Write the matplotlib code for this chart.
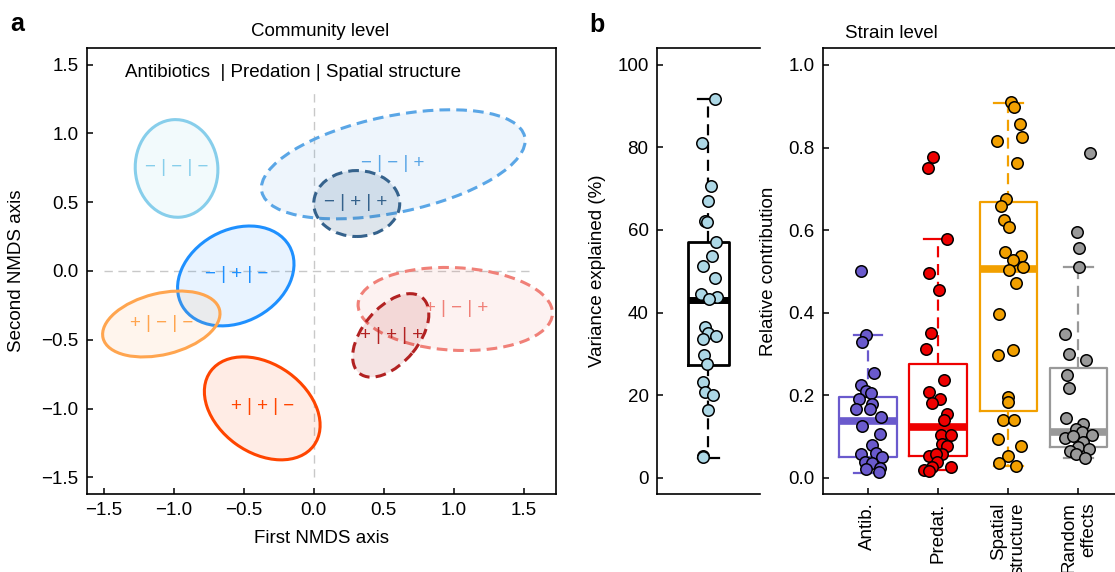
import matplotlib
matplotlib.use('Agg')
from matplotlib import pyplot as plt
from matplotlib.patches import Ellipse
from matplotlib.colors import to_rgba

plt.rcParams['font.family'] = ['Liberation Sans', 'DejaVu Sans']
plt.rcParams['font.size'] = 13

# ---- panel a: NMDS ellipses (community level) ----
ell_labels = ['− | − | −', '− | − | +', '− | + | +', '− | + | −',
              '+ | − | −', '+ | + | −', '+ | − | +', '+ | + | +']
ell_cx = [-0.98, 0.568, 0.307, -0.557, -1.089, -0.368, 1.011, 0.55]
ell_cy = [0.745, 0.775, 0.49, -0.036, -0.385, -0.998, -0.276, -0.468]
ell_w = [0.59, 1.92, 0.614, 0.88, 0.857, 0.913, 1.39, 0.71]
ell_h = [0.71, 0.70, 0.479, 0.666, 0.445, 0.64, 0.60, 0.40]
ell_ang = [4, 12, 0, 30, 14, -36.5, -3, 51]
ell_colors = ['#87CEEB', '#5AA6E6', '#35628C', '#1E90FF',
              '#FFA54F', '#FF4500', '#F08078', '#B22222']
ell_dashed = [False, True, True, False, False, False, True, True]
ell_fill = [0.10, 0.10, 0.16, 0.10, 0.10, 0.10, 0.10, 0.12]
lab_x = [-0.98, 0.566, 0.30, -0.55, -1.086, -0.364, 1.02, 0.557]
lab_y = [0.75, 0.78, 0.497, -0.025, -0.381, -0.984, -0.27, -0.47]

# ---- panel b left: variance explained ----
var_expl = [91.7, 80.9, 70.6, 67.1, 62.2, 62.0, 57.1, 53.6, 51.3, 48.4, 44.6,
            43.8, 43.2, 36.4, 35.0, 34.4, 33.7, 29.8, 27.5, 23.1, 20.8, 20.0,
            16.4, 5.3, 5.0]
var_jit = [0.129, -0.129, 0.045, 0.0, -0.065, -0.032, 0.142, 0.065, -0.11,
           0.136, -0.136, 0.162, 0.019, -0.071, -0.013, 0.155, -0.11, -0.084,
           -0.032, -0.11, -0.071, 0.097, -0.006, -0.11, -0.097]
var_box = dict(q1=27.2, med=43.0, q3=57.0, whislo=4.8, whishi=91.7)

# ---- panel b right: relative contribution ----
cats = ['Antib.', 'Predat.', 'Spatial\nstructure', 'Random\neffects']
cat_colors = ['#6A5ACD', '#EE0000', '#F2A000', '#999999']
antib = [0.502, 0.347, 0.330, 0.253, 0.225, 0.211, 0.206, 0.191, 0.180, 0.167,
         0.166, 0.148, 0.125, 0.106, 0.079, 0.057, 0.061, 0.051, 0.039, 0.036,
         0.021, 0.023, 0.015]
antib_jit = [-0.104, -0.033, -0.081, 0.081, -0.104, -0.024, 0.047, -0.128,
             0.057, -0.166, 0.024, 0.18, -0.081, 0.175, 0.057, -0.104, 0.118,
             0.194, -0.047, 0.057, -0.033, 0.175, 0.152]
predat = [0.776, 0.750, 0.578, 0.495, 0.455, 0.350, 0.313, 0.237, 0.208, 0.190,
          0.182, 0.154, 0.140, 0.103, 0.103, 0.083, 0.078, 0.053, 0.057, 0.059,
          0.039, 0.027, 0.027, 0.019, 0.017]
predat_jit = [-0.066, -0.147, 0.123, -0.128, 0.014, -0.104, -0.175, 0.09,
              -0.128, 0.033, -0.09, 0.123, 0.085, 0.038, 0.18, 0.052, 0.133,
              -0.123, 0.052, -0.033, -0.019, -0.09, 0.185, -0.199, -0.128]
spatial = [0.910, 0.899, 0.857, 0.826, 0.815, 0.763, 0.676, 0.658, 0.624, 0.608,
           0.546, 0.537, 0.527, 0.511, 0.503, 0.473, 0.396, 0.309, 0.297, 0.195,
           0.183, 0.140, 0.140, 0.095, 0.078, 0.053, 0.035, 0.029]
spatial_jit = [0.038, 0.081, 0.166, 0.19, -0.166, 0.118, -0.033, -0.109,
               -0.057, 0.005, -0.047, 0.18, 0.071, 0.204, 0.014, 0.109, -0.133,
               0.066, -0.142, -0.009, 0.0, -0.071, 0.081, -0.152, 0.175,
               -0.009, -0.128, 0.109]
random_eff = [0.786, 0.596, 0.557, 0.511, 0.348, 0.301, 0.286, 0.249, 0.217,
              0.146, 0.130, 0.118, 0.111, 0.097, 0.101, 0.103, 0.087, 0.075,
              0.071, 0.065, 0.057, 0.049]
random_jit = [0.171, -0.024, 0.005, 0.005, -0.185, -0.142, 0.109, -0.161,
              -0.142, -0.175, 0.062, -0.033, 0.047, -0.185, -0.071, 0.19, 0.071,
              -0.009, 0.156, -0.118, -0.033, 0.095]
strain_vals = [antib, predat, spatial, random_eff]
strain_jit = [antib_jit, predat_jit, spatial_jit, random_jit]
box_q1 = [0.051, 0.053, 0.162, 0.074]
box_med = [0.137, 0.122, 0.507, 0.111]
box_q3 = [0.196, 0.275, 0.667, 0.267]
box_lo = [0.013, 0.019, 0.029, 0.048]
box_hi = [0.347, 0.578, 0.909, 0.511]

fig = plt.figure(figsize=(11.15, 5.72), dpi=100)
axa = fig.add_axes([0.078, 0.1364, 0.4206, 0.7797])
axb1 = fig.add_axes([0.5892, 0.1364, 0.0924, 0.7797])
axb2 = fig.add_axes([0.7381, 0.1364, 0.2625, 0.7797])

for ax in [axa, axb1, axb2]:
    ax.tick_params(direction='in', length=4, width=1.1, pad=6, labelsize=13.5)
    for s in ax.spines.values():
        s.set_linewidth(1.2)

# panel a
axa.plot([0, 0], [-1.5, 1.3], color='#C8C8C8', lw=1, ls=(0, (6, 4)), zorder=0)
axa.plot([-1.5, 1.55], [0, 0], color='#C8C8C8', lw=1, ls=(0, (6, 4)), zorder=0)
for i in range(len(ell_labels)):
    c = ell_colors[i]
    e = Ellipse((ell_cx[i], ell_cy[i]), ell_w[i], ell_h[i], angle=ell_ang[i],
                facecolor=to_rgba(c, ell_fill[i]), edgecolor=c, lw=2.2,
                ls=(0, (3.5, 2)) if ell_dashed[i] else '-')
    axa.add_patch(e)
    axa.text(lab_x[i], lab_y[i], ell_labels[i], color=c, ha='center',
             va='center', fontsize=13.5)
axa.text(-1.35, 1.44, 'Antibiotics  | Predation | Spatial structure',
         ha='left', va='center', fontsize=13.5)
axa.set_xlim(-1.62, 1.73)
axa.set_ylim(-1.62, 1.62)
axa.set_xticks([-1.5, -1.0, -0.5, 0.0, 0.5, 1.0, 1.5])
axa.set_yticks([-1.5, -1.0, -0.5, 0.0, 0.5, 1.0, 1.5])
axa.set_xlabel('First NMDS axis', labelpad=8, fontsize=13.5)
axa.set_ylabel('Second NMDS axis', labelpad=12, fontsize=13.5)

# panel b left
st = dict(var_box, fliers=[])
axb1.bxp([st], positions=[1], widths=0.78, showfliers=False,
         boxprops=dict(color='black', lw=2),
         whiskerprops=dict(color='black', lw=1.6, ls=(0, (5, 3))),
         capprops=dict(color='black', lw=1.6),
         medianprops=dict(color='black', lw=5))
axb1.scatter([1 + j for j in var_jit], var_expl, s=68, color='#ADD8E6',
             edgecolor='black', lw=1.1, zorder=5)
axb1.set_xlim(0, 2)
axb1.set_ylim(-3.9, 104)
axb1.set_yticks([0, 20, 40, 60, 80, 100])
axb1.set_xticks([])
axb1.spines['right'].set_visible(False)
axb1.set_ylabel('Variance explained (%)', labelpad=8, fontsize=13.5)

# panel b right
stats = []
for i in range(4):
    stats.append(dict(q1=box_q1[i], med=box_med[i], q3=box_q3[i],
                      whislo=box_lo[i], whishi=box_hi[i], fliers=[]))
for i in range(4):
    c = cat_colors[i]
    axb2.bxp([stats[i]], positions=[i + 1], widths=0.82, showfliers=False,
             boxprops=dict(color=c, lw=1.6),
             whiskerprops=dict(color=c, lw=1.6, ls=(0, (5, 3))),
             capprops=dict(color=c, lw=1.6),
             medianprops=dict(color=c, lw=5.5))
    axb2.scatter([i + 1 + j for j in strain_jit[i]], strain_vals[i], s=68,
                 color=c, edgecolor='black', lw=1.1, zorder=5)
axb2.set_xlim(0.36, 4.53)
axb2.set_ylim(-0.039, 1.041)
axb2.set_yticks([0.0, 0.2, 0.4, 0.6, 0.8, 1.0])
axb2.set_xticks([1, 2, 3, 4])
axb2.set_xticklabels(cats, rotation=90, ha='center', va='top',
                     multialignment='right')
axb2.spines['right'].set_visible(False)
axb2.set_ylabel('Relative contribution', labelpad=8, fontsize=13.5)

fig.text(320 / 1115, 1 - 32 / 572, 'Community level', ha='center',
         va='center', fontsize=13.5)
fig.text(891 / 1115, 1 - 33 / 572, 'Strain level', ha='center',
         va='center', fontsize=13.5)
fig.text(17 / 1115, 1 - 24 / 572, 'a', ha='center', va='center',
         fontsize=18, fontweight='bold')
fig.text(597 / 1115, 1 - 25 / 572, 'b', ha='center', va='center',
         fontsize=18, fontweight='bold')

fig.savefig('out.png', dpi=100)
